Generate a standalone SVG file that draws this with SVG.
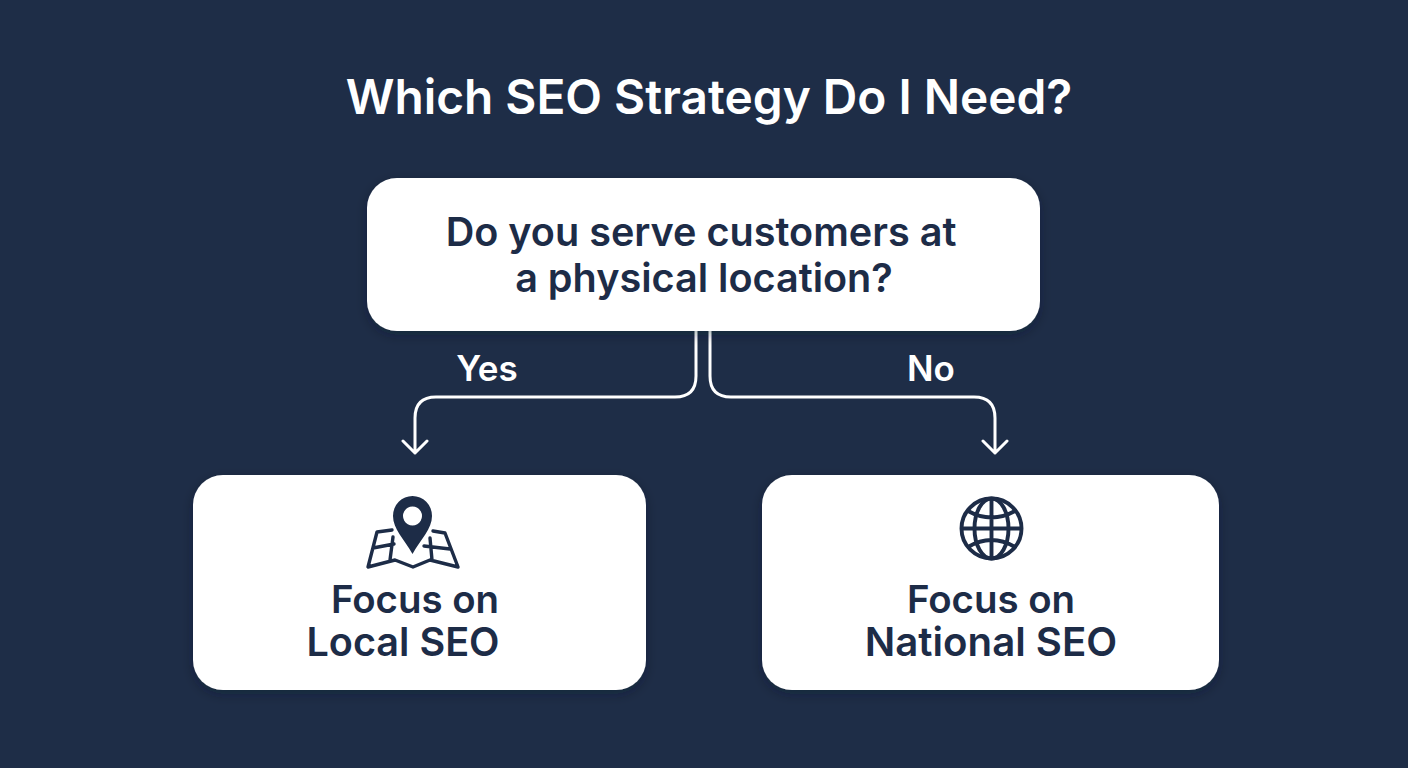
<svg xmlns="http://www.w3.org/2000/svg" width="1408" height="768" viewBox="0 0 1408 768">
<style>
text{font-family:Inter,"Liberation Sans",sans-serif;font-weight:600;text-anchor:middle}
.t{fill:#1d2c47;font-size:39.6px}
.f{fill:#1d2c47;font-size:38.4px}
.l{fill:#fff;font-size:35px}
.box{fill:#fff;filter:url(#s)}
.c{fill:none;stroke:#fff;stroke-width:3;stroke-linecap:round;stroke-linejoin:round}
.i{fill:none;stroke:#1d2c47;stroke-width:3.4;stroke-linecap:round;stroke-linejoin:round}
.g{fill:none;stroke:#1d2c47;stroke-width:3.9}
</style>
<defs><filter id="s" x="-10%" y="-15%" width="120%" height="130%"><feDropShadow dx="0" dy="4" stdDeviation="6" flood-color="#0c1525" flood-opacity=".35"/></filter></defs>
<rect width="1408" height="768" fill="#1e2d47"/>
<text id="title" x="709" y="114" style="fill:#fff;font-size:47.8px">Which SEO Strategy Do I Need?</text>
<g id="connectors">
<path class="c" d="M696 331V376Q696 397 675 397H436Q415 397 415 418V453M403 441L415 453L427 441"/>
<path class="c" d="M710 331V376Q710 397 731 397H974Q995 397 995 418V453M983 441L995 453L1007 441"/>
</g>
<g id="question"><rect class="box" x="367" y="178" width="673" height="153" rx="30"/>
<text class="t" x="701" y="246">Do you serve customers at</text><text class="t" x="704" y="292">a physical location?</text></g>
<text id="yes" class="l" x="487" y="381">Yes</text>
<text id="no" class="l" x="931" y="381">No</text>
<g id="local"><rect class="box" x="193" y="475" width="453" height="215" rx="30"/>
<path fill="#1d2c47" fill-rule="evenodd" d="M412.500 554C404 539 393 529 393 516A19.500 20 0 0 1 432 516C432 529 421 539 412.500 554ZM412.500 506.500A9.500 9.500 0 1 0 412.510 506.500Z"/>
<path class="i" d="M392 530L377 532L368 567L395 560L413 567L430 560L458 567L445 533L433 531M373 548L394 544M393 537L390 560M424 546L450 549M430 538L432 560"/>
<text class="f" x="415" y="613">Focus on</text><text class="t" x="403" y="656">Local SEO</text></g>
<g id="national"><rect class="box" x="762" y="475" width="457" height="215" rx="30"/>
<g class="g"><circle cx="991.500" cy="528.500" r="30"/><ellipse cx="991.500" cy="528.500" rx="17" ry="30"/><path d="M991.500 499V558M962 528.500H1021M968 511Q991.500 524 1015 511M968 547Q991.500 533 1015 547"/></g>
<text class="f" x="991" y="613">Focus on</text><text class="t" x="991" y="656" style="font-size:40.200px">National SEO</text></g>
</svg>
